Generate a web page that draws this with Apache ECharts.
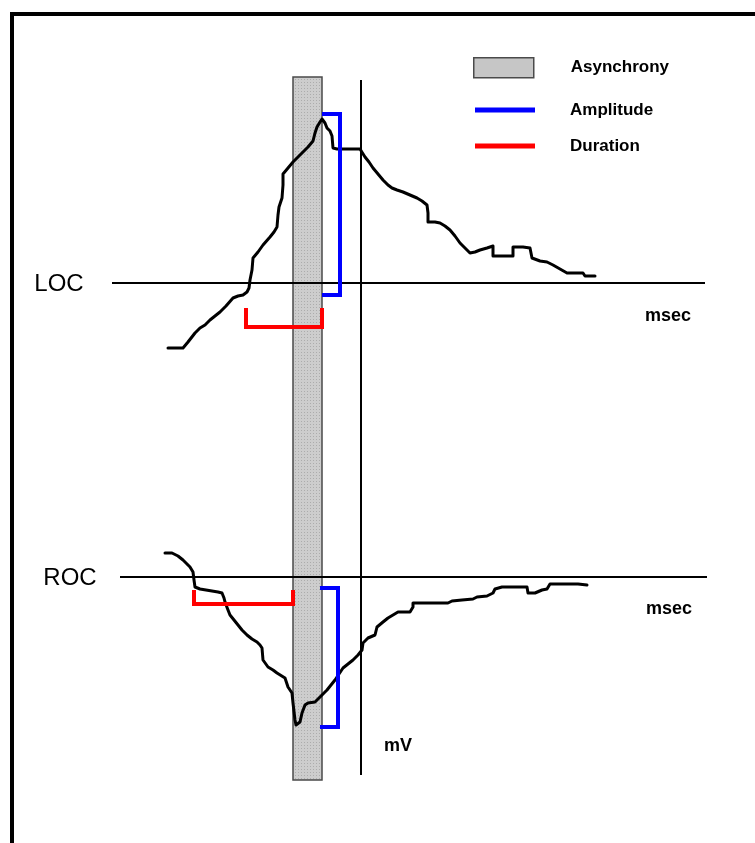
<!DOCTYPE html>
<html>
<head>
<meta charset="utf-8">
<script src="https://cdn.jsdelivr.net/npm/echarts@6/dist/echarts.min.js"></script>
<style>
html,body{margin:0;padding:0;background:#fff;}
#chart{width:755px;height:843px;}
</style>
</head>
<body>
<div id="chart"></div>
<script>
// Time (relative to mV axis) and amplitude (relative to each baseline), in chart units
const locTime = [-193,-178,-173,-166,-161,-156,-151,-146,-141,-135,-128,-123,-118,-114,-112,-111,-109,-108,-103,-98,-91,-87,-84,-83,-82,-79,-78,-78,-73,-68,-63,-58,-53,-48,-46,-44,-41,-39,-36,-34,-31,-29,-28,-24,-1,1,4,8,12,17,22,27,31,36,42,49,56,61,66,67,67,74,79,84,89,94,99,104,109,114,119,126,132,132,152,152,162,169,171,179,186,192,199,206,214,222,224,234];
const locAmp  = [-65,-65,-59,-50,-45,-42,-37,-33,-29,-23,-15,-13,-12,-9,-5,3,13,25,31,38,46,51,56,68,76,85,98,109,115,121,126,131,136,142,150,156,161,164,160,155,152,147,135,134,134,132,126,121,115,109,103,98,95,93,91,88,85,82,78,70,61,61,60,57,53,47,40,35,30,31,33,35,37,27,27,36,36,35,25,22,21,18,14,10,10,10,7,7];

const rocTime = [-196,-189,-183,-178,-174,-171,-168,-167,-166,-161,-155,-149,-143,-139,-137,-136,-133,-131,-127,-123,-119,-114,-109,-104,-101,-99,-98,-93,-88,-84,-76,-73,-69,-68,-66,-65,-61,-59,-56,-53,-46,-43,-41,-34,-26,-18,-13,-8,-3,1,2,7,14,16,22,27,32,37,49,52,52,87,91,101,112,116,126,132,134,141,166,167,174,181,186,189,217,219,226];
const rocAmp  = [24,24,21,17,13,10,5,-3,-10,-12,-13,-14,-15,-16,-21,-25,-33,-38,-43,-48,-53,-58,-62,-65,-68,-71,-83,-90,-93,-96,-101,-110,-116,-126,-143,-148,-145,-136,-128,-126,-125,-122,-120,-113,-103,-91,-87,-83,-78,-73,-66,-61,-58,-50,-45,-41,-38,-35,-35,-30,-26,-26,-24,-23,-22,-20,-19,-16,-12,-10,-10,-16,-16,-13,-12,-7,-7,-9,-8];

// Asynchrony band [tStart, tEnd, aTop, aBottom] (LOC axis units)
const asyncBand = [-68, -39, 206, -497];
// mV axis line (LOC axis units)
const mvAxisT = [0, 0];
const mvAxisA = [203, -492];
// baselines
const locBaseT = [-249, 344];
const rocBaseT = [-241, 346];

// Amplitude brackets
const ampLocT = [-39, -21, -21, -39];
const ampLocA = [169, 169, -12, -12];
const ampRocT = [-41, -23, -23, -41];
const ampRocA = [-11, -11, -150, -150];
// Duration brackets
const durLocT = [-115, -115, -39, -39];
const durLocA = [-25, -44, -44, -25];
const durRocT = [-167, -167, -68, -68];
const durRocA = [-13, -27, -27, -13];

const legendNames = ['Asynchrony', 'Amplitude', 'Duration'];
// annotation texts
const locLabels = ['LOC', 'msec'];
const rocLabels = ['ROC', 'msec', 'mV'];

const FONT = 'Liberation Sans, Arial, sans-serif';

const zip = (a, b) => a.map((v, i) => [v, b[i]]);

// dotted gray texture for the asynchrony band
const tex = document.createElement('canvas');
tex.width = 3; tex.height = 3;
(function () {
  const c = tex.getContext('2d');
  c.fillStyle = '#cdcdcd'; c.fillRect(0, 0, 3, 3);
  c.fillStyle = '#acacac'; c.fillRect(1, 1, 1, 1);
})();
const bandFill = {image: tex, repeat: 'repeat'};

const chart = echarts.init(document.getElementById('chart'), null, {renderer: 'canvas'});

const lineBase = (name, yIdx, data, color, width, z, extra) => Object.assign({
  name: name, type: 'line', xAxisIndex: 0, yAxisIndex: yIdx, data: data,
  symbol: 'none', showSymbol: false, silent: true, animation: false, z: z,
  color: color,
  lineStyle: {color: color, width: width, join: 'miter', cap: 'butt'}
}, extra || {});

const textSeries = (name, yIdx, items) => ({
  name: name, type: 'custom', xAxisIndex: 0, yAxisIndex: yIdx, silent: true, z: 5,
  data: items,
  renderItem: function (params, api) {
    const it = items[params.dataIndex];
    const p = api.coord([it.value[0], it.value[1]]);
    return {
      type: 'text', x: p[0], y: p[1],
      style: {text: it.name, fill: '#000', font: it.font, align: 'center', verticalAlign: 'middle'}
    };
  }
});

const option = {
  animation: false,
  backgroundColor: '#ffffff',
  grid: {left: 0, right: 0, top: 0, bottom: 0, containLabel: false},
  xAxis: {type: 'value', min: -361, max: 394, show: false},
  yAxis: [
    {type: 'value', min: -560, max: 283, show: false},
    {type: 'value', min: -266, max: 577, show: false, position: 'right'}
  ],
  legend: [
    {data: [{name: legendNames[0], icon: 'rect'}], left: 473, top: 57, padding: 0,
     itemWidth: 60, itemHeight: 20, selectedMode: false,
     itemStyle: {color: '#c6c6c6', borderColor: '#4a4a4a', borderWidth: 1.5},
     textStyle: {fontSize: 17, fontWeight: 'bold', fontFamily: FONT, color: '#000', padding: [0, 0, 0, 32]}},
    {data: [{name: legendNames[1], icon: 'rect'}], left: 475, top: 101.5, padding: 0,
     itemWidth: 60, itemHeight: 5, selectedMode: false,
     itemStyle: {color: '#0000ff', borderWidth: 0},
     textStyle: {fontSize: 17, fontWeight: 'bold', fontFamily: FONT, color: '#000', padding: [0, 0, 0, 30]}},
    {data: [{name: legendNames[2], icon: 'rect'}], left: 475, top: 137.5, padding: 0,
     itemWidth: 60, itemHeight: 5, selectedMode: false,
     itemStyle: {color: '#ff0000', borderWidth: 0},
     textStyle: {fontSize: 17, fontWeight: 'bold', fontFamily: FONT, color: '#000', padding: [0, 0, 0, 30]}}
  ],
  graphic: [
    {type: 'rect', silent: true, z: 100,
     shape: {x: 12, y: 14, width: 900, height: 1000},
     style: {fill: 'none', stroke: '#000', lineWidth: 4}}
  ],
  series: [
    {
      name: legendNames[0], type: 'custom', xAxisIndex: 0, yAxisIndex: 0, silent: true, z: 1,
      color: '#c6c6c6',
      itemStyle: {color: '#c6c6c6', borderColor: '#4a4a4a', borderWidth: 1.5},
      data: [asyncBand],
      renderItem: function (params, api) {
        const p0 = api.coord([api.value(0), api.value(2)]);
        const p1 = api.coord([api.value(1), api.value(3)]);
        return {
          type: 'rect',
          shape: {x: p0[0], y: p0[1], width: p1[0] - p0[0], height: p1[1] - p0[1]},
          style: {fill: bandFill, stroke: '#4a4a4a', lineWidth: 1.5}
        };
      }
    },
    lineBase('baseLOC', 0, zip(locBaseT, [0, 0]), '#000', 2, 2),
    lineBase('baseROC', 1, zip(rocBaseT, [0, 0]), '#000', 2, 2),
    lineBase('mVaxis', 0, zip(mvAxisT, mvAxisA), '#000', 2, 2),
    lineBase('LOC trace', 0, zip(locTime, locAmp), '#000', 3, 3, {lineStyle: {color: '#000', width: 3, join: 'round', cap: 'round'}}),
    lineBase('ROC trace', 1, zip(rocTime, rocAmp), '#000', 3, 3, {lineStyle: {color: '#000', width: 3, join: 'round', cap: 'round'}}),
    lineBase(legendNames[1], 0, zip(ampLocT, ampLocA), '#0000ff', 4, 4),
    lineBase(legendNames[1], 1, zip(ampRocT, ampRocA), '#0000ff', 4, 4),
    lineBase(legendNames[2], 0, zip(durLocT, durLocA), '#ff0000', 4, 4),
    lineBase(legendNames[2], 1, zip(durRocT, durRocA), '#ff0000', 4, 4),
    textSeries('labelsLOC', 0, [
      {value: [-302, -1], name: locLabels[0], font: 'normal 24px ' + FONT},
      {value: [307, -33], name: locLabels[1], font: 'bold 18px ' + FONT}
    ]),
    textSeries('labelsROC', 1, [
      {value: [-291, -1], name: rocLabels[0], font: 'normal 24px ' + FONT},
      {value: [308, -32], name: rocLabels[1], font: 'bold 18px ' + FONT},
      {value: [37, -169], name: rocLabels[2], font: 'bold 18px ' + FONT}
    ])
  ]
};
chart.setOption(option);
</script>
</body>
</html>
